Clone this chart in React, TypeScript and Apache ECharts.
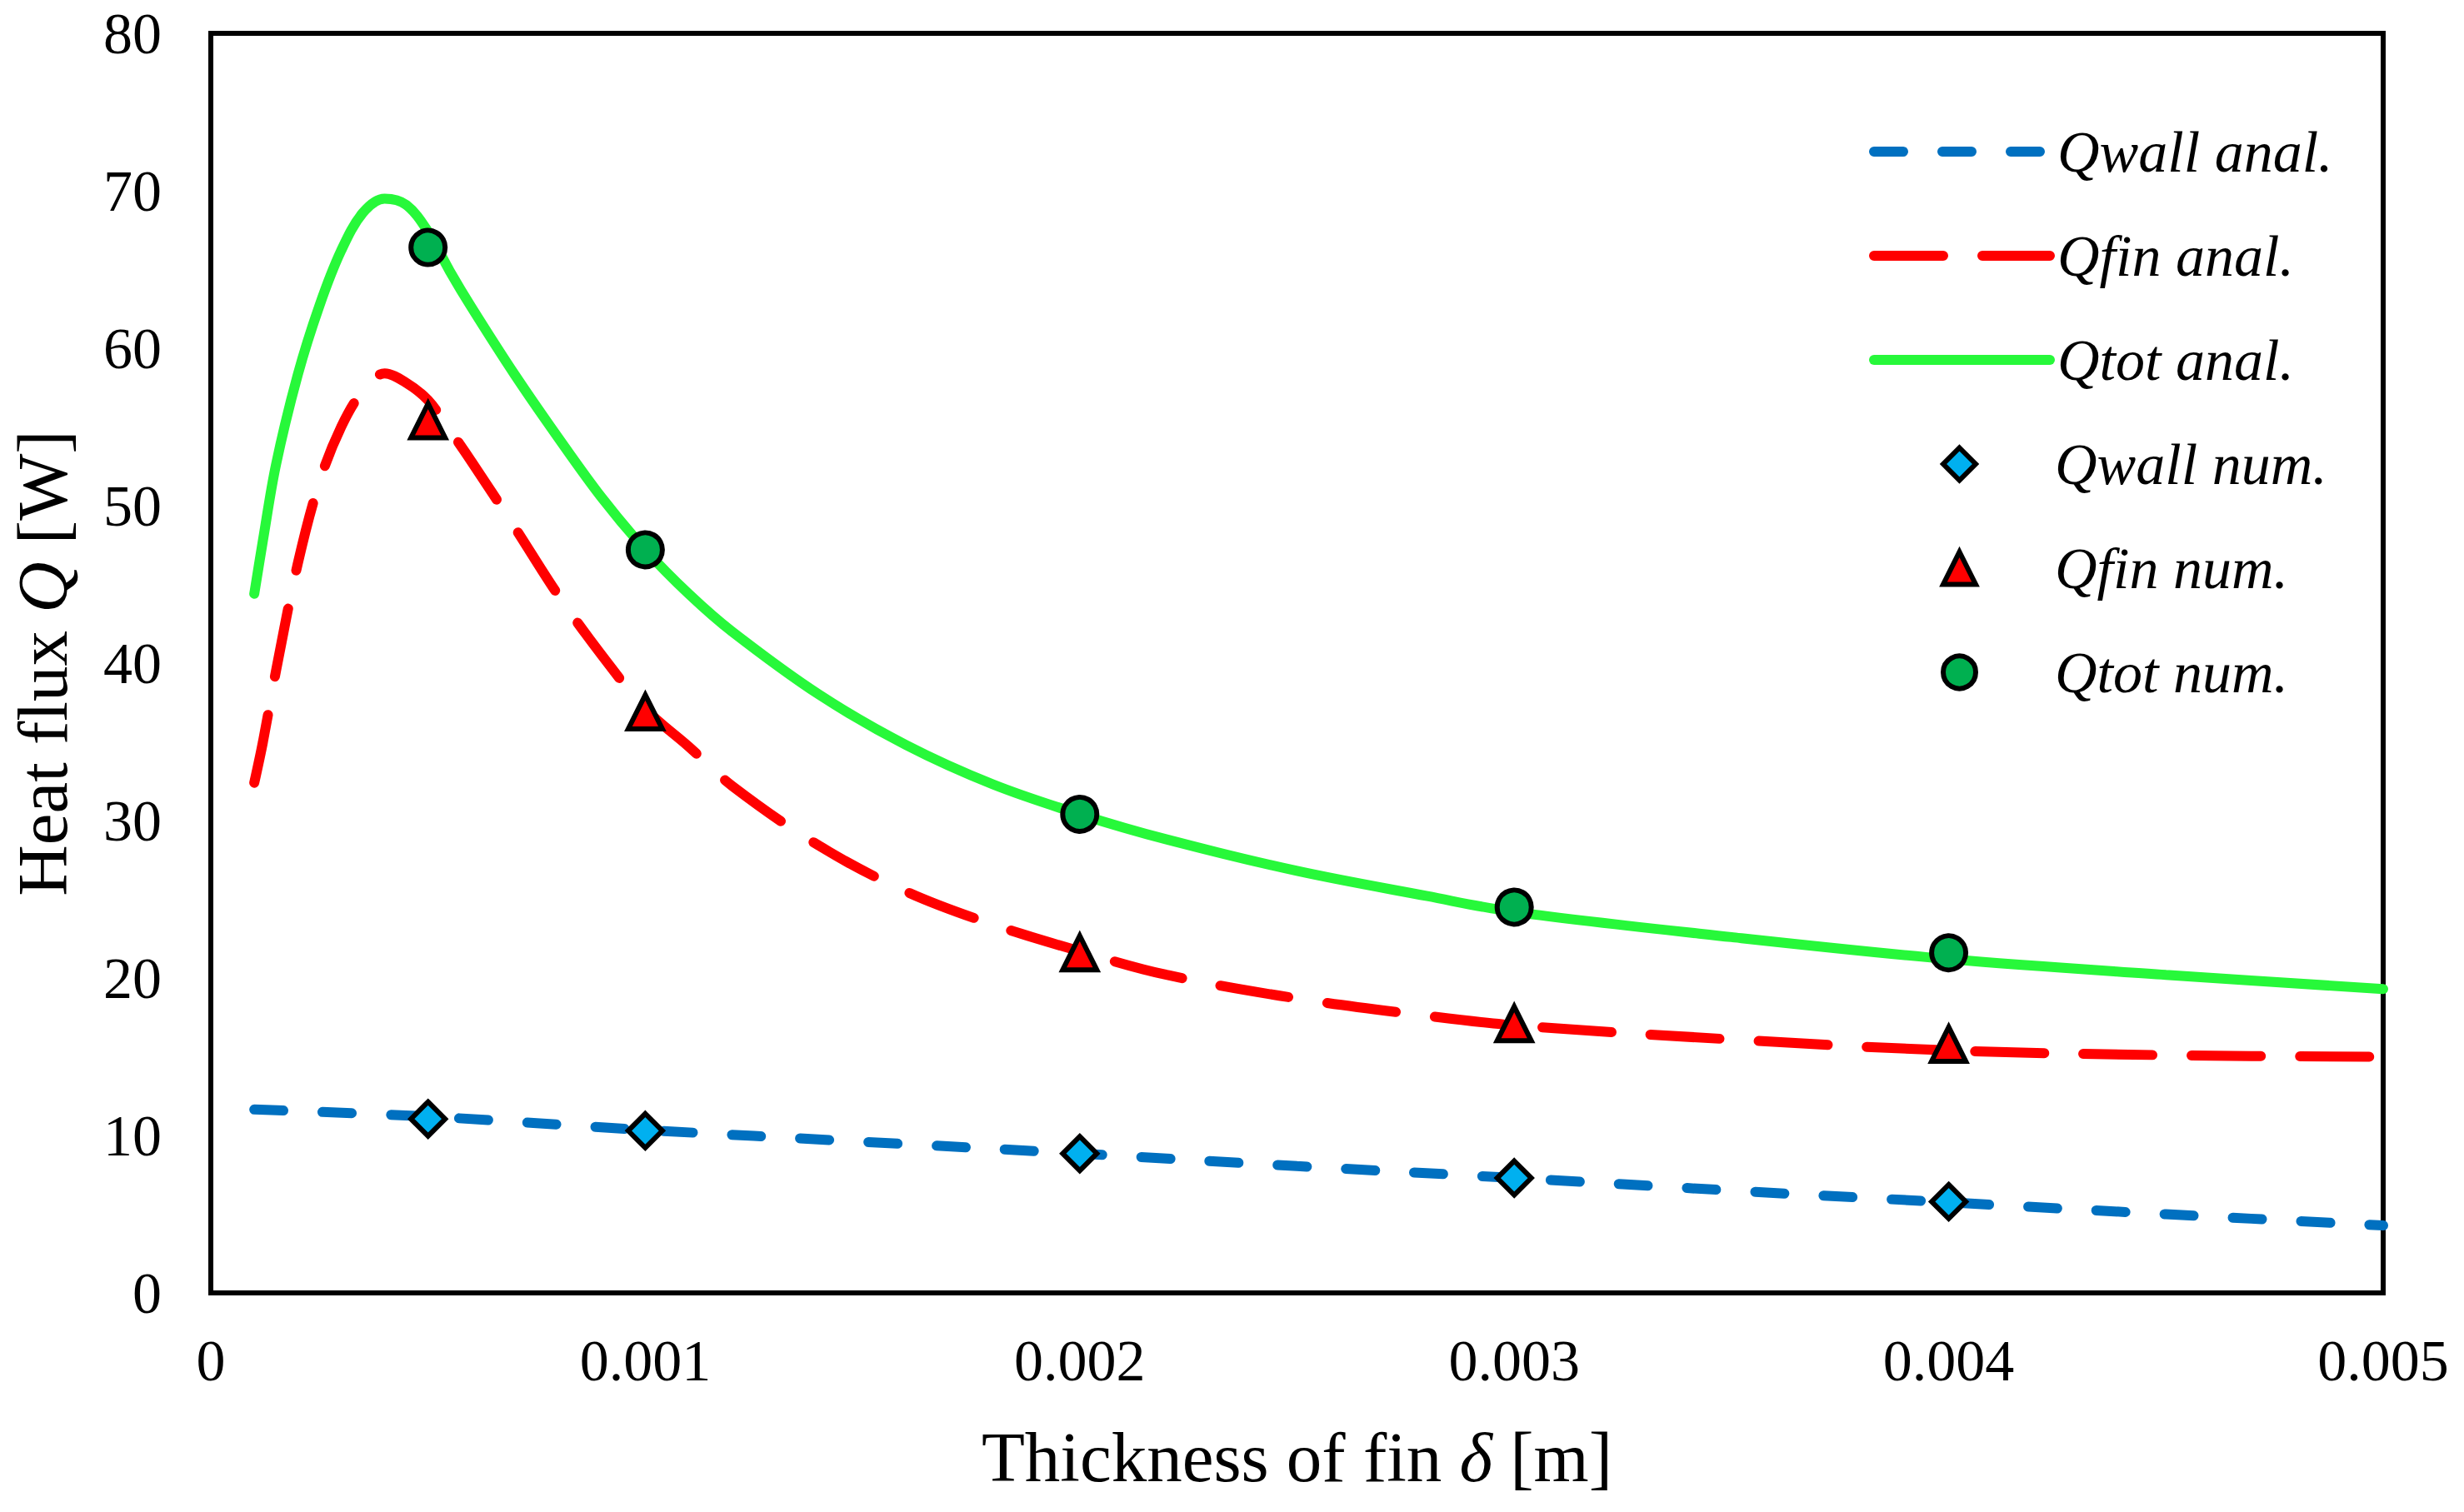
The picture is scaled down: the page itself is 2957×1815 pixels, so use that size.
import React, { useEffect, useRef } from 'react';
import * as echarts from 'echarts';

// analytical curves (fin thickness in m, heat flux in W)
const xAnal = [
  0.0001, 0.00012, 0.00015, 0.0002, 0.00025, 0.0003, 0.00035, 0.0004, 0.00045, 0.0005,
  0.00055, 0.0006, 0.0007, 0.0008, 0.0009, 0.001, 0.0011, 0.0012, 0.0014, 0.0016,
  0.0018, 0.002, 0.0022, 0.0025, 0.0028, 0.003, 0.0035, 0.004, 0.0045, 0.005,
];
const qTotAnal = [
  44.4, 47.8, 52.6, 58.3, 62.7, 66.2, 68.6, 69.5, 69.1, 67.4,
  64.9, 62.6, 58.3, 54.3, 50.5, 47.2, 44.4, 42.0, 38.0, 34.8,
  32.3, 30.4, 28.8, 26.8, 25.2, 24.2, 22.6, 21.2, 20.2, 19.3,
];
const qFinAnal = [
  32.4, 35.0, 39.5, 46.3, 51.5, 55.0, 57.3, 58.4, 57.8, 56.7,
  54.8, 52.8, 48.6, 44.3, 40.5, 37.1, 34.7, 32.2, 28.4, 25.5,
  23.4, 21.7, 20.2, 18.7, 17.6, 17.0, 16.1, 15.4, 15.1, 15.0,
];

const xWall = [0.0001, 0.0005, 0.001, 0.0015, 0.002, 0.0025, 0.003, 0.0035, 0.004, 0.0045, 0.005];
const qWallAnal = [11.65, 11.2, 10.35, 9.6, 8.85, 8.05, 7.3, 6.5, 5.75, 5.0, 4.28];

// numerical points
const xNum = [0.0005, 0.001, 0.002, 0.003, 0.004];
const qWallNum = [11.05, 10.3, 8.85, 7.3, 5.8];
const qFinNum = [55.4, 36.9, 21.6, 17.1, 15.8];
const qTotNum = [66.4, 47.2, 30.4, 24.5, 21.6];

const lineNames = ['Qwall anal.', 'Qfin anal.', 'Qtot anal.'];
const pointNames = ['Qwall num.', 'Qfin num.', 'Qtot num.'];

const FONT = '"Liberation Serif", "Times New Roman", serif';

const pairs = (xs: number[], ys: number[]) => xs.map((x, i) => [x, ys[i]]);

const App: React.FC = () => {
  const chartRef = useRef<HTMLDivElement>(null);

  useEffect(() => {
    if (!chartRef.current) return;
    const chart = echarts.init(chartRef.current, undefined, { renderer: 'svg' });

    const lineBase = {
      type: 'line' as const,
      symbol: 'none',
      smooth: 0.35,
      z: 2,
    };
    const markerBase = {
      type: 'scatter' as const,
      symbolSize: 41,
      z: 5,
    };
    const legendText = {
      fontFamily: FONT,
      fontStyle: 'italic' as const,
      fontSize: 70,
      lineHeight: 70,
      color: '#000',
    };

    const option: echarts.EChartsOption = {
      animation: false,
      backgroundColor: '#ffffff',
      grid: {
        left: 250,
        right: 97,
        top: 40,
        bottom: 263,
        show: true,
        borderColor: '#000',
        borderWidth: 6,
      },
      legend: [
        {
          orient: 'vertical',
          left: 2243,
          top: 147,
          padding: 0,
          itemWidth: 211,
          itemHeight: 39,
          itemGap: 55,
          data: lineNames,
          lineStyle: { width: 12 },
          itemStyle: { opacity: 0, borderWidth: 0 },
          textStyle: { ...legendText, padding: [0, 0, 0, 4] },
        },
        {
          orient: 'vertical',
          left: 2329,
          top: 522,
          padding: 0,
          itemWidth: 39,
          itemHeight: 39,
          itemGap: 55,
          data: pointNames,
          itemStyle: { borderWidth: 6 },
          textStyle: { ...legendText, padding: [0, 0, 0, 90] },
        },
      ],
      xAxis: {
        type: 'value',
        min: 0,
        max: 0.005,
        interval: 0.001,
        name: 'Thickness of fin {i|δ} [m]',
        nameLocation: 'middle',
        nameGap: 154,
        nameTextStyle: {
          fontFamily: FONT,
          fontSize: 85,
          color: '#000',
          rich: {
            i: { fontFamily: FONT, fontSize: 85, fontStyle: 'italic', color: '#000' },
          },
        },
        axisLine: { show: true, lineStyle: { color: '#000', width: 6 } },
        axisTick: { show: false },
        splitLine: { show: false },
        axisLabel: {
          margin: 46,
          fontFamily: FONT,
          fontSize: 70,
          color: '#000',
          formatter: (v: number) => (v === 0 ? '0' : v.toFixed(3)),
        },
      },
      yAxis: {
        type: 'value',
        min: 0,
        max: 80,
        interval: 10,
        name: 'Heat flux {i|Q} [W]',
        nameLocation: 'middle',
        nameGap: 160,
        nameRotate: 90,
        nameTextStyle: {
          fontFamily: FONT,
          fontSize: 85,
          color: '#000',
          rich: {
            i: { fontFamily: FONT, fontSize: 85, fontStyle: 'italic', color: '#000' },
          },
        },
        axisLine: { show: true, lineStyle: { color: '#000', width: 6 } },
        axisTick: { show: false },
        splitLine: { show: false },
        axisLabel: {
          margin: 59,
          fontFamily: FONT,
          fontSize: 70,
          color: '#000',
        },
      },
      series: [
        {
          ...lineBase,
          name: lineNames[0],
          data: pairs(xWall, qWallAnal),
          itemStyle: { color: '#0070C0' },
          lineStyle: { color: '#0070C0', width: 12, type: [35, 47], cap: 'round' },
        },
        {
          ...lineBase,
          name: lineNames[1],
          data: pairs(xAnal, qFinAnal),
          itemStyle: { color: '#FF0000' },
          lineStyle: { color: '#FF0000', width: 12, type: [83, 47], cap: 'round' },
        },
        {
          ...lineBase,
          name: lineNames[2],
          data: pairs(xAnal, qTotAnal),
          itemStyle: { color: '#27F83A' },
          lineStyle: { color: '#27F83A', width: 12, type: 'solid', cap: 'round' },
        },
        {
          ...markerBase,
          name: pointNames[0],
          symbol: 'diamond',
          data: pairs(xNum, qWallNum),
          itemStyle: { color: '#00B0F0', borderColor: '#000', borderWidth: 6, opacity: 1 },
        },
        {
          ...markerBase,
          name: pointNames[1],
          symbol: 'triangle',
          data: pairs(xNum, qFinNum),
          itemStyle: { color: '#FF0000', borderColor: '#000', borderWidth: 6, opacity: 1 },
        },
        {
          ...markerBase,
          name: pointNames[2],
          symbol: 'circle',
          data: pairs(xNum, qTotNum),
          itemStyle: { color: '#00B050', borderColor: '#000', borderWidth: 6, opacity: 1 },
        },
      ],
    };

    chart.setOption(option);

    const handleResize = () => chart.resize();
    window.addEventListener('resize', handleResize);

    return () => {
      window.removeEventListener('resize', handleResize);
      chart.dispose();
    };
  }, []);

  return (
    <div
      ref={chartRef}
      style={{ position: 'fixed', left: 0, top: 0, width: '100vw', height: '100vh', background: '#fff' }}
    />
  );
};

export default App;
